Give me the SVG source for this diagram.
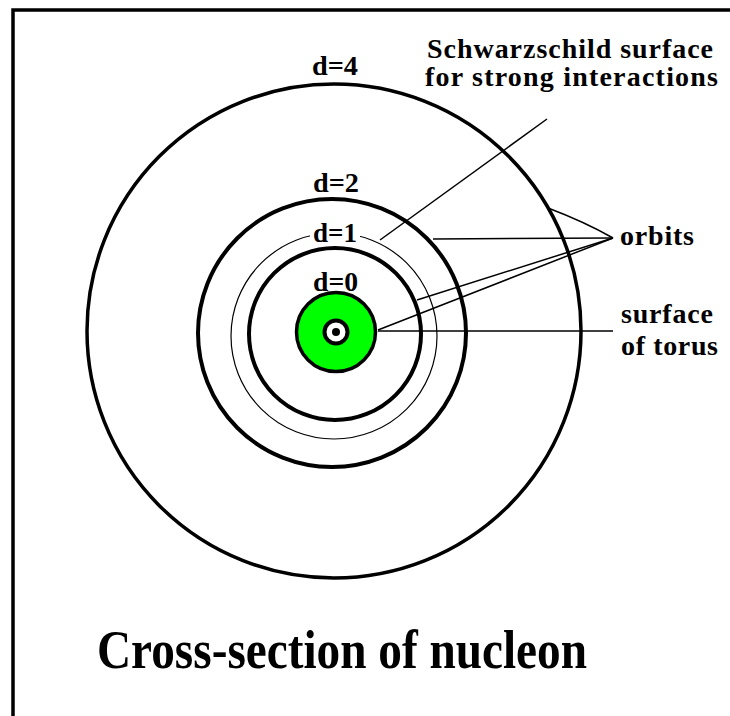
<svg xmlns="http://www.w3.org/2000/svg" width="730" height="716" viewBox="0 0 730 716">
<style>
.lbl{font-family:"Liberation Serif","Times New Roman",serif;font-weight:bold;font-size:28px;fill:#000}
.ttl{font-family:"Liberation Serif","Times New Roman",serif;font-weight:bold;font-size:54px;fill:#000}
.ring{fill:none;stroke:#000}
.conn{fill:none;stroke:#000;stroke-width:1.5}
</style>
<rect x="0" y="0" width="730" height="716" fill="#fff"/>
<path d="M13 716 V10 H730" fill="none" stroke="#000" stroke-width="3.5"/>
<g id="orbit-d4">
<circle class="ring" cx="334" cy="331" r="247" stroke-width="3.5"/>
<text class="lbl" x="312" y="75" textLength="46" lengthAdjust="spacingAndGlyphs">d=4</text>
</g>
<g id="orbit-d2">
<circle class="ring" cx="332" cy="333" r="134" stroke-width="4"/>
<text class="lbl" x="313" y="192" textLength="46" lengthAdjust="spacingAndGlyphs">d=2</text>
</g>
<g id="orbit-d1">
<circle class="ring" cx="334" cy="336" r="103" stroke-width="1.2"/>
<rect x="310" y="221" width="50" height="24" fill="#fff"/>
<text class="lbl" x="313" y="242" textLength="44" lengthAdjust="spacingAndGlyphs">d=1</text>
</g>
<g id="orbit-d0">
<circle class="ring" cx="335" cy="334" r="86" stroke-width="4"/>
<text class="lbl" x="313" y="291" textLength="45" lengthAdjust="spacingAndGlyphs">d=0</text>
</g>
<g id="torus">
<circle cx="336" cy="332" r="39.5" fill="#00ff00" stroke="#000" stroke-width="3.5"/>
<circle cx="336" cy="332" r="11.5" fill="#fff" stroke="#000" stroke-width="4"/>
<circle cx="336" cy="332" r="4" fill="#000"/>
</g>
<g id="connectors">
<line class="conn" x1="547" y1="119" x2="380" y2="240"/>
<path class="conn" d="M548 208 Q585 222 613 238"/>
<line class="conn" x1="433" y1="239" x2="613" y2="238"/>
<line class="conn" x1="417" y1="300" x2="613" y2="238"/>
<line class="conn" x1="378" y1="330" x2="613" y2="238"/>
<line class="conn" x1="378" y1="331" x2="613" y2="331"/>
</g>
<g id="label-schwarzschild">
<text class="lbl" x="427" y="58" textLength="286" lengthAdjust="spacing">Schwarzschild surface</text>
<text class="lbl" x="425" y="86" textLength="293" lengthAdjust="spacing">for strong interactions</text>
</g>
<g id="label-orbits">
<text class="lbl" x="620" y="245" textLength="74" lengthAdjust="spacing">orbits</text>
</g>
<g id="label-torus">
<text class="lbl" x="621" y="323" textLength="92" lengthAdjust="spacing">surface</text>
<text class="lbl" x="621" y="355" textLength="97" lengthAdjust="spacing">of torus</text>
</g>
<g id="title">
<text class="ttl" x="97" y="668" textLength="490" lengthAdjust="spacingAndGlyphs">Cross-section of nucleon</text>
</g>
</svg>
